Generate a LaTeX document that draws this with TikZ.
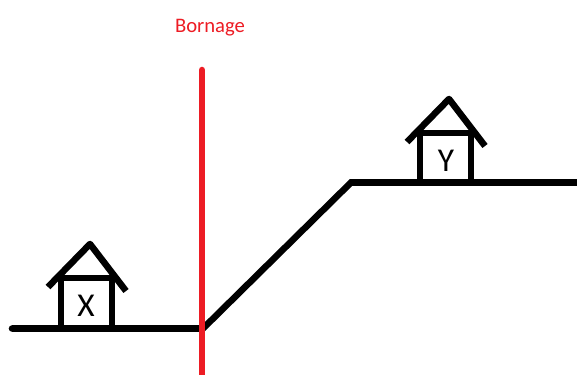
\documentclass[tikz,border=0pt]{standalone}
\usepackage{fontspec}
\setmainfont{Carlito}
\usepackage{xcolor}
\definecolor{bornagered}{RGB}{237, 28, 36}
\tikzset{
  trait/.style={black, line width=4.9pt},
  houselabel/.style={font=\fontsize{25}{25}\selectfont, inner sep=0pt},
}
\begin{document}
\begin{tikzpicture}[x=0.75pt, y=-0.75pt]
  \useasboundingbox (0,0) rectangle (577,374);
  %--- ground ----------------------------------------------------------------
  \draw[trait, line cap=round] (12,328.5) -- (203,328.5) -- (351,182.5) -- (580,182.5);
  %--- house X ---------------------------------------------------------------
  \begin{scope}
    \draw[trait] (61,328) -- (61,278);
    \draw[trait] (112,328) -- (112,278);
    \draw[trait] (58,278) -- (115,278);
    \draw[trait, line join=round] (48,287) -- (90,244) -- (126,291);
    \node[houselabel] (labelx) at (86,305.5) {X};
  \end{scope}
  %--- house Y ---------------------------------------------------------------
  \begin{scope}[xshift=269.25pt, yshift=108.75pt]
    \draw[trait] (61,328) -- (61,278);
    \draw[trait] (112,328) -- (112,278);
    \draw[trait] (58,278) -- (115,278);
    \draw[trait, line join=round] (48,287) -- (90,244) -- (126,291);
    \node[houselabel] (labely) at (87,306) {Y};
  \end{scope}
  %--- bornage ---------------------------------------------------------------
  \draw[bornagered, line width=4.9pt, line cap=round] (202,70) -- (202,380);
  \node[bornagered, font=\fontsize{15.5}{15.5}\selectfont, inner sep=0pt] (bornage) at (210,27.5) {Bornage};
\end{tikzpicture}
\end{document}
